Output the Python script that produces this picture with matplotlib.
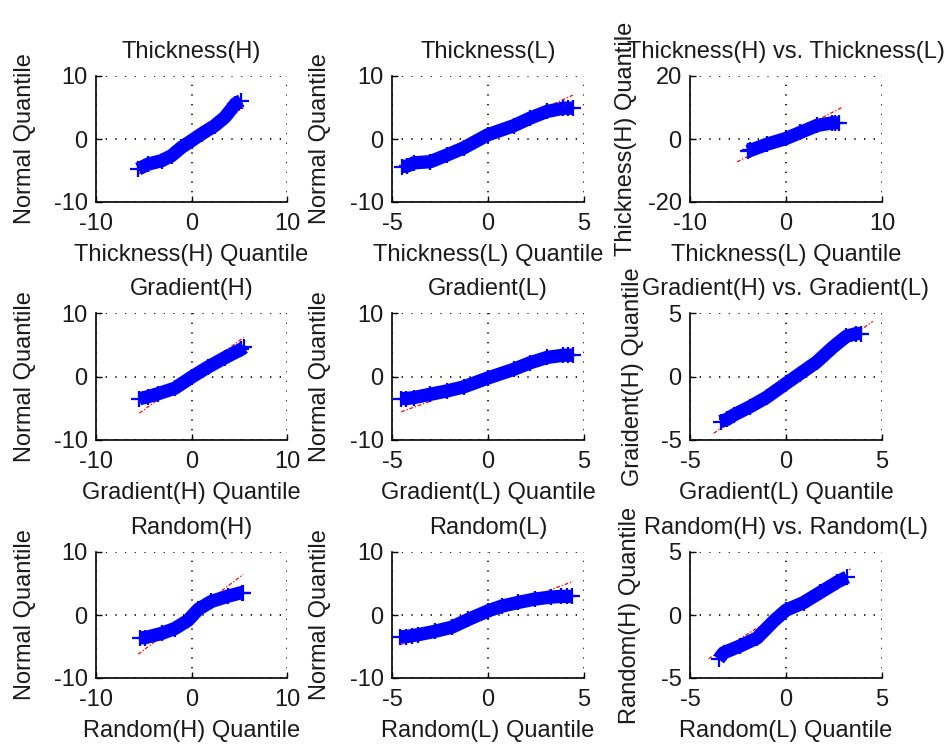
import matplotlib
matplotlib.use("Agg")
import matplotlib.pyplot as plt

plt.rcParams['font.family'] = ['Liberation Sans', 'DejaVu Sans']
plt.rcParams['axes.unicode_minus'] = False

# ---- quantile curves for each panel (x = sample quantile, y = reference quantile) ----
thick_h_x = [-5.58, -4.54, -3.14, -2.09, -1.05, 0.0, 1.05, 2.44, 3.49, 4.19, 4.6, 5.2]
thick_h_y = [-4.77, -3.98, -3.45, -2.65, -1.33, -0.27, 0.80, 2.12, 3.45, 4.77, 5.6, 6.1]
thick_h_ref = ([-5.6, 5.45], [-5.6, 4.95])

thick_l_x = [-4.47, -4.21, -3.86, -3.0, -2.13, -1.27, 0.0, 1.33, 2.2, 3.07, 3.93, 4.19, 4.42]
thick_l_y = [-4.37, -4.3, -3.79, -3.6, -2.53, -1.42, 0.68, 2.1, 3.32, 4.37, 4.89, 4.89, 4.89]
thick_l_ref = ([-4.47, 4.42], [-5.26, 6.95])

thick_hl_x = [-4.0, -3.7, -1.97, 0.0, 1.49, 3.22, 4.8, 5.1, 5.5]
thick_hl_y = [-3.9, -3.6, -1.64, 0.16, 2.07, 4.3, 5.1, 5.1, 5.1]
thick_hl_ref = ([-5.09, 5.81], [-7.26, 10.0])

grad_h_x = [-5.46, -4.6, -3.48, -1.74, 0.0, 1.74, 3.48, 5.22, 5.5]
grad_h_y = [-3.49, -3.2, -2.7, -1.85, -0.1, 1.5, 2.95, 4.3, 4.6]
grad_h_ref = ([-5.46, 5.46], [-5.77, 6.14])

grad_l_x = [-4.52, -4.25, -3.86, -3.0, -2.13, -1.27, 0.0, 1.33, 2.2, 3.07, 3.93, 4.19, 4.45]
grad_l_y = [-3.47, -3.47, -3.32, -2.79, -2.27, -1.64, -0.23, 1.12, 2.17, 3.0, 3.35, 3.35, 3.35]
grad_l_ref = ([-4.52, 2.0], [-5.56, 1.6])

grad_hl_x = [-3.41, -3.07, -2.72, -1.86, -1.0, 0.0, 0.72, 1.59, 2.45, 3.14, 3.66, 3.91]
grad_hl_y = [-3.55, -3.37, -3.03, -2.37, -1.63, -0.55, 0.21, 1.13, 2.32, 3.16, 3.38, 3.38]
grad_hl_ref = ([-3.76, 4.52], [-4.47, 4.34])

rand_h_x = [-5.41, -4.89, -3.14, -1.75, -0.35, 0.7, 2.09, 3.84, 5.24, 5.41]
rand_h_y = [-3.61, -3.6, -2.93, -2.15, -0.84, 0.9, 2.15, 3.0, 3.55, 3.55]
rand_h_ref = ([-5.58, 5.41], [-6.23, 6.44])

rand_l_x = [-4.57, -4.27, -3.96, -3.62, -2.75, -1.89, -1.02, 0.0, 0.71, 1.57, 2.44, 3.3, 3.82, 4.13, 4.38]
rand_l_y = [-3.44, -3.44, -3.28, -3.12, -2.58, -1.94, -0.70, 0.65, 1.4, 1.99, 2.53, 2.85, 2.95, 2.95, 2.95]
rand_l_ref = ([-4.57, 4.43], [-4.73, 5.32])

rand_hl_x = [-3.51, -3.25, -2.38, -1.51, -0.64, 0.0, 0.92, 1.79, 2.66, 3.18]
rand_hl_y = [-3.52, -3.0, -2.45, -1.83, -0.48, 0.38, 0.99, 1.8, 2.61, 3.01]
rand_hl_ref = ([-4.03, 3.36], [-3.47, 3.66])

titles = ['Thickness(H)', 'Thickness(L)', 'Thickness(H) vs. Thickness(L)',
          'Gradient(H)', 'Gradient(L)', 'Gradient(H) vs. Gradient(L)',
          'Random(H)', 'Random(L)', 'Random(H) vs. Random(L)']
xlabels = ['Thickness(H) Quantile', 'Thickness(L) Quantile', 'Thickness(L) Quantile',
           'Gradient(H) Quantile', 'Gradient(L) Quantile', 'Gradient(L) Quantile',
           'Random(H) Quantile', 'Random(L) Quantile', 'Random(L) Quantile']
ylabels = ['Normal Quantile', 'Normal Quantile', 'Thickness(H) Quantile',
           'Normal Quantile', 'Normal Quantile', 'Graident(H) Quantile',
           'Normal Quantile', 'Normal Quantile', 'Random(H) Quantile']
xticks = [[-10, 0, 10], [-5, 0, 5], [-10, 0, 10],
          [-10, 0, 10], [-5, 0, 5], [-5, 0, 5],
          [-10, 0, 10], [-5, 0, 5], [-5, 0, 5]]
yticks = [[-10, 0, 10], [-10, 0, 10], [-20, 0, 20],
          [-10, 0, 10], [-10, 0, 10], [-5, 0, 5],
          [-10, 0, 10], [-10, 0, 10], [-5, 0, 5]]

curves = [(thick_h_x, thick_h_y, thick_h_ref), (thick_l_x, thick_l_y, thick_l_ref),
          (thick_hl_x, thick_hl_y, thick_hl_ref),
          (grad_h_x, grad_h_y, grad_h_ref), (grad_l_x, grad_l_y, grad_l_ref),
          (grad_hl_x, grad_hl_y, grad_hl_ref),
          (rand_h_x, rand_h_y, rand_h_ref), (rand_l_x, rand_l_y, rand_l_ref),
          (rand_hl_x, rand_hl_y, rand_hl_ref)]

W, H = 951, 748
fig = plt.figure(figsize=(W / 100, H / 100), dpi=100)

col_left = [96, 392, 690]
col_width = [191, 192, 192]
row_top = [76, 313, 552]
row_height = [126, 127, 126]
ylabel_x = [-0.372, -0.377, -0.33]
ylabel_x_col3 = [-0.335, -0.295, -0.31]

FS = 17
TXT = '#1a1a1a'
for i in range(9):
    r, c = divmod(i, 3)
    left = col_left[c] / W
    bottom = 1 - (row_top[r] + row_height[r]) / H
    ax = fig.add_axes([left, bottom, col_width[c] / W, row_height[r] / H])
    xs, ys, ref = curves[i]

    ax.plot(ref[0], ref[1], color='red', linestyle=(0, (3, 1.5, 1, 1.5)),
            linewidth=0.9, zorder=2)
    ax.plot(xs, ys, color='blue', linewidth=9.6, solid_capstyle='butt',
            solid_joinstyle='round', zorder=3)
    ax.plot(xs, ys, linestyle='none', marker='+', markersize=11,
            markeredgewidth=1.6, color='blue', zorder=4)

    ax.set_xlim(xticks[i][0], xticks[i][-1])
    ax.set_ylim(yticks[i][0], yticks[i][-1])
    ax.set_xticks(xticks[i])
    ax.set_yticks(yticks[i])
    ax.tick_params(direction='in', length=4, width=1, labelsize=FS,
                   top=False, right=False, colors='black', labelcolor=TXT)
    ax.tick_params(axis='x', pad=8)
    ax.tick_params(axis='y', pad=6)
    ax.spines['top'].set_visible(False)
    ax.spines['right'].set_visible(False)
    for s in ('left', 'bottom'):
        ax.spines[s].set_linewidth(1.2)
        ax.spines[s].set_color('black')
    ax.set_axisbelow(True)
    ax.grid(True, color='black', linewidth=1.2, linestyle=(0, (0.8, 5)))

    ax.set_title(titles[i], fontsize=FS, pad=13, color=TXT)
    ax.set_xlabel(xlabels[i], fontsize=FS, va='center', color=TXT)
    ax.xaxis.set_label_coords(0.5, -0.42)
    ax.set_ylabel(ylabels[i], fontsize=FS, va='center', color=TXT)
    yx = ylabel_x_col3[r] if c == 2 else ylabel_x[c]
    ax.yaxis.set_label_coords(yx, 0.5)

fig.savefig('out.png', dpi=100)
